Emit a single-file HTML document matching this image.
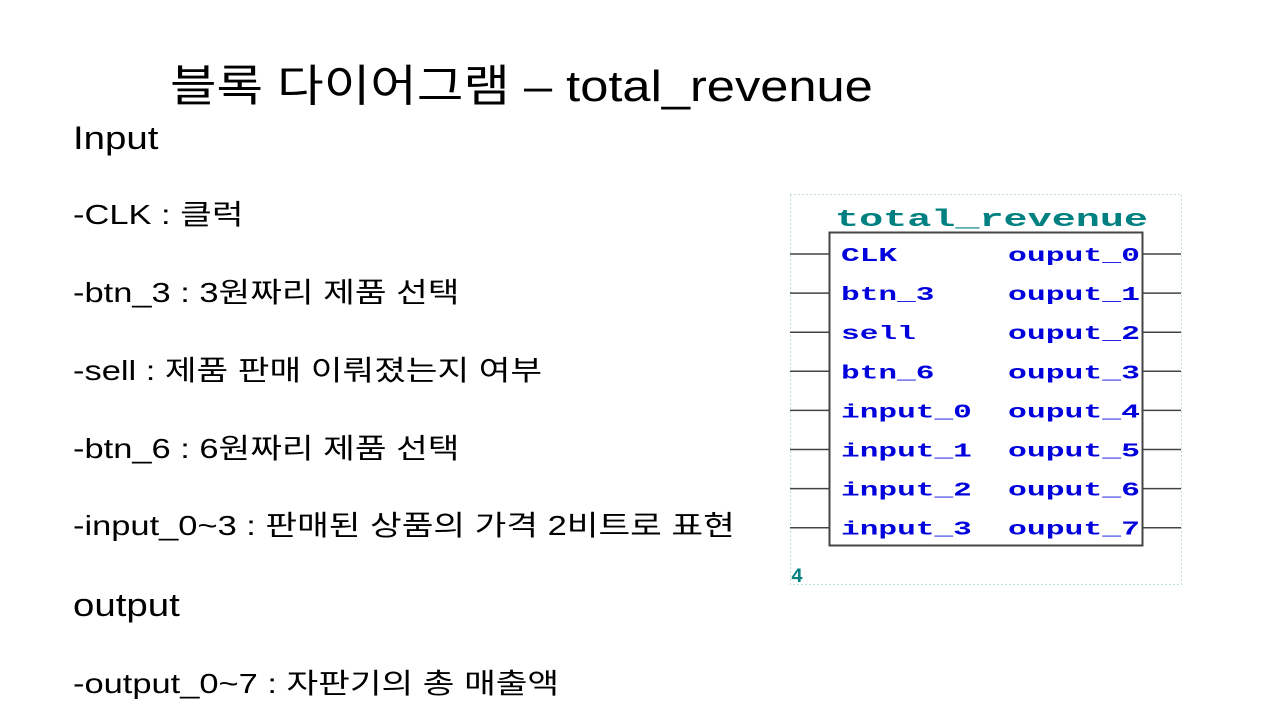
<!DOCTYPE html>
<html><head><meta charset="utf-8"><style>
body{margin:0;width:1280px;height:720px;background:#fff;position:relative;overflow:hidden;font-family:"Liberation Sans","Noto Sans CJK KR",sans-serif;color:#000}
.t{position:absolute;white-space:nowrap;line-height:40px;height:40px;transform-origin:0 50%;transform:scaleX(1.23)}
</style></head><body>
<div class="t" style="left:170px;top:64px;font-size:44px;line-height:46px;height:46px;transform:scaleX(1.15)">블록 다이어그램 – total_revenue</div>
<div class="t" style="left:73px;top:118px;font-size:32px;transform:scaleX(1.2)">Input</div>
<div class="t" style="left:73px;top:195px;font-size:28px">-CLK : 클럭</div>
<div class="t" style="left:73px;top:273px;font-size:28px">-btn_3 : 3원짜리 제품 선택</div>
<div class="t" style="left:73px;top:351px;font-size:28px">-sell : 제품 판매 이뤄졌는지 여부</div>
<div class="t" style="left:73px;top:429px;font-size:28px">-btn_6 : 6원짜리 제품 선택</div>
<div class="t" style="left:73px;top:506px;font-size:28px">-input_0~3 : 판매된 상품의 가격 2비트로 표현</div>
<div class="t" style="left:73px;top:585px;font-size:32px;transform:scaleX(1.2)">output</div>
<div class="t" style="left:73px;top:664px;font-size:28px">-output_0~7 : 자판기의 총 매출액</div>
<svg style="position:absolute;left:0;top:0" width="1280" height="720">
<rect x="790.5" y="194.5" width="391" height="390" fill="none" stroke="#7fbfbf" stroke-width="1" stroke-dasharray="1,3"/>
<text x="835" y="226" font-family="Liberation Mono,monospace" font-weight="bold" font-size="24" fill="#008080" textLength="313" lengthAdjust="spacingAndGlyphs">total_revenue</text>
<rect x="829.5" y="232.5" width="313" height="313" fill="#fff" stroke="#444" stroke-width="2"/>
<g id="pins"></g>
<text x="791" y="582" font-family="Liberation Mono,monospace" font-weight="bold" font-size="20" fill="#008080">4</text>
</svg>
<script>
const inputs=["CLK","btn_3","sell","btn_6","input_0","input_1","input_2","input_3"];
const outputs=["ouput_0","ouput_1","ouput_2","ouput_3","ouput_4","ouput_5","ouput_6","ouput_7"];
const g=document.getElementById('pins');const NS='http://www.w3.org/2000/svg';
inputs.forEach((n,i)=>{
 const y=254+i*39.1;
 const l=document.createElementNS(NS,'line');l.setAttribute('x1',790);l.setAttribute('x2',829);l.setAttribute('y1',y);l.setAttribute('y2',y);l.setAttribute('stroke','#444');l.setAttribute('stroke-width','1.5');
 
 
 g.appendChild(l);
 const t=document.createElementNS(NS,'text');t.setAttribute('x',841);t.setAttribute('y',y+7);t.setAttribute('font-family','Liberation Mono,monospace');t.setAttribute('font-weight','bold');t.setAttribute('font-size','19');t.setAttribute('fill','#0000dd');
 t.setAttribute('textLength',n.length*18.7);t.setAttribute('lengthAdjust','spacingAndGlyphs');t.textContent=n;
 
 
 g.appendChild(t);
});
outputs.forEach((n,i)=>{
 const y=254+i*39.1;
 const l=document.createElementNS(NS,'line');l.setAttribute('x1',1142);l.setAttribute('x2',1181);l.setAttribute('y1',y);l.setAttribute('y2',y);l.setAttribute('stroke','#444');l.setAttribute('stroke-width','1.5');
 
 
 g.appendChild(l);
 const t=document.createElementNS(NS,'text');t.setAttribute('x',1008);t.setAttribute('y',y+7);t.setAttribute('font-family','Liberation Mono,monospace');t.setAttribute('font-weight','bold');t.setAttribute('font-size','19');t.setAttribute('fill','#0000dd');
 t.setAttribute('textLength',132);t.setAttribute('lengthAdjust','spacingAndGlyphs');t.textContent=n;
 
 
 g.appendChild(t);
});
</script>
</body></html>
